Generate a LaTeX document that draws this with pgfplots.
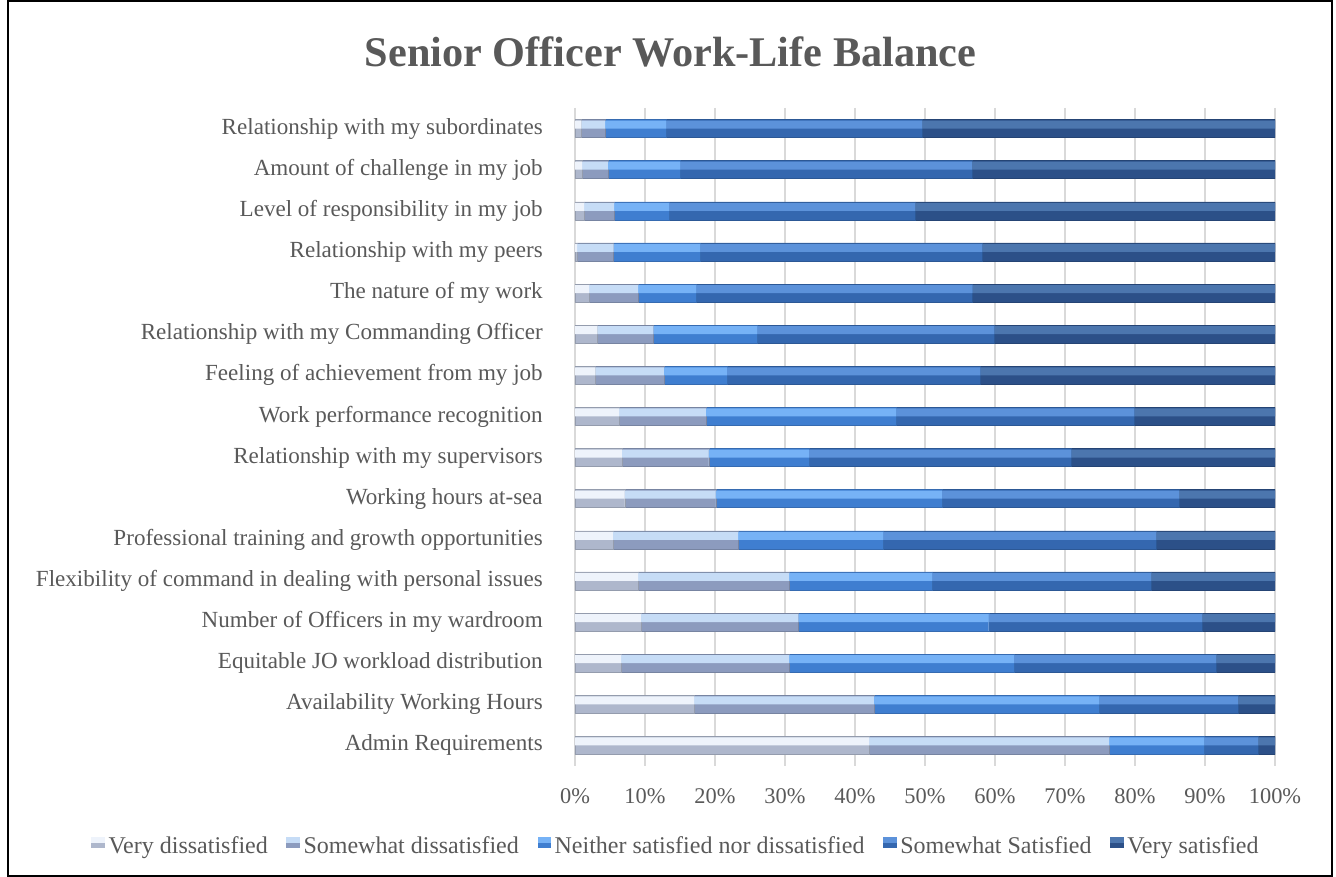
\documentclass[border=0pt]{standalone}
\usepackage{pgfplots}
\usepackage{pgfplotstable}
\pgfplotsset{compat=1.18}
\usepackage{fontspec}
\setmainfont{Liberation Serif}
\definecolor{txt}{HTML}{595959}
\definecolor{gridc}{HTML}{D9D9D9}
% lower (base) and upper (highlight) tones of each series
\definecolor{vdD}{HTML}{AEB7CC}\definecolor{vdL}{HTML}{EEF3FB}
\definecolor{sdD}{HTML}{8C9BBE}\definecolor{sdL}{HTML}{C6DCF6}
\definecolor{neD}{HTML}{3F7ED0}\definecolor{neL}{HTML}{76B2F6}
\definecolor{ssD}{HTML}{3467AF}\definecolor{ssL}{HTML}{5C92DA}
\definecolor{vsD}{HTML}{2C5088}\definecolor{vsL}{HTML}{4C76AE}

% y: 1 = top row ... 16 = bottom row
\pgfplotstableread{
y  vd   sd   ne   ss   vs
1  0.9  3.4  8.7  36.6 50.4
2  1.0  3.7  10.3 41.7 43.3
3  1.3  4.3  7.8  35.2 51.4
4  0.3  5.2  12.4 40.3 41.8
5  2.0  7.0  8.3  39.5 43.2
6  3.2  8.0  14.8 33.9 40.1
7  2.9  9.8  9.0  36.2 42.1
8  6.3  12.4 27.2 34.0 20.1
9  6.7  12.4 14.3 37.5 29.1
10 7.1  13.0 32.3 33.9 13.7
11 5.4  17.9 20.7 39.0 17.0
12 9.0  21.6 20.4 31.3 17.7
13 9.4  22.5 27.2 30.5 10.4
14 6.6  24.0 32.1 28.9 8.4
15 17.0 25.7 32.2 19.8 5.3
16 42.0 34.3 13.6 7.7  2.4
}\datatable

\pgfplotsset{
  frame/.style={
    at={(431.25pt,83.25pt)}, anchor=south west,
    scale only axis, width=525pt, height=493.5pt,
    xbar stacked,
    xmin=0, xmax=100, ymin=0.5, ymax=16.5, y dir=reverse,
  },
  leg/.style 2 args={legend image code/.code={
    \fill[#1] (0pt,-1pt) rectangle (9.5pt,7pt);
    \fill[#2] (0pt,3.2pt) rectangle (9.5pt,6.6pt);}},
}
\begin{document}
\begin{tikzpicture}
\useasboundingbox (0pt,0pt) rectangle (1002pt,657.75pt);
\draw[line width=1.2pt] (6pt,0.9pt) rectangle (999pt,657pt);
\node[anchor=base, font=\fontsize{31.7}{36}\selectfont\bfseries, text=txt] at (502.9pt,607.5pt) {Senior Officer Work-Life Balance};
\begin{axis}[
  frame, bar width=13.5pt,
  ytick={1,...,16},
  yticklabels={Relationship with my subordinates, Amount of challenge in my job, Level of responsibility in my job, Relationship with my peers, The nature of my work, Relationship with my Commanding Officer, Feeling of achievement from my job, Work performance recognition, Relationship with my supervisors, Working hours at-sea, Professional training and growth opportunities, Flexibility of command in dealing with personal issues, Number of Officers in my wardroom, Equitable JO workload distribution, Availability Working Hours, Admin Requirements},
  xtick={0,10,...,100},
  xticklabels={0\%,10\%,20\%,30\%,40\%,50\%,60\%,70\%,80\%,90\%,100\%},
  xmajorgrids, ymajorgrids=false,
  major grid style={draw=gridc, line width=1pt},
  axis line style={draw=none},
  major tick length=0pt, tick style={draw=none},
  yticklabel style={anchor=east, inner sep=0pt, xshift=-24pt, font=\fontsize{17.3}{20}\selectfont, text=txt},
  xticklabel style={anchor=north, inner sep=0pt, yshift=-16.5pt, font=\fontsize{16.8}{20}\selectfont, text=txt},
  legend columns=5,
  legend style={at={(0.1429,-0.1216)}, anchor=center, draw=none, fill=none,
    font=\fontsize{18}{20}\selectfont, text=txt, inner sep=0pt,
    nodes={inner sep=0pt},
    /tikz/every odd column/.append style={column sep=3pt},
    /tikz/every even column/.append style={column sep=14pt}},
]
\addplot[draw=vdD!85!black, line width=0.3pt, fill=vdD, leg={vdD}{vdL}] table[x=vd, y=y] {\datatable};
\addlegendentry{Very dissatisfied}
\addplot[draw=sdD!85!black, line width=0.3pt, fill=sdD, leg={sdD}{sdL}] table[x=sd, y=y] {\datatable};
\addlegendentry{Somewhat dissatisfied}
\addplot[draw=neD!85!black, line width=0.3pt, fill=neD, leg={neD}{neL}] table[x=ne, y=y] {\datatable};
\addlegendentry{Neither satisfied nor dissatisfied}
\addplot[draw=ssD!85!black, line width=0.3pt, fill=ssD, leg={ssD}{ssL}] table[x=ss, y=y] {\datatable};
\addlegendentry{Somewhat Satisfied}
\addplot[draw=vsD!85!black, line width=0.3pt, fill=vsD, leg={vsD}{vsL}] table[x=vs, y=y] {\datatable};
\addlegendentry{Very satisfied}
\end{axis}
% highlight band on the upper half of each bar
\begin{axis}[
  frame, bar width=6pt, bar shift=3.0pt,
  hide axis,
]
\addplot[draw=none, fill=vdL] table[x=vd, y=y] {\datatable};
\addplot[draw=none, fill=sdL] table[x=sd, y=y] {\datatable};
\addplot[draw=none, fill=neL] table[x=ne, y=y] {\datatable};
\addplot[draw=none, fill=ssL] table[x=ss, y=y] {\datatable};
\addplot[draw=none, fill=vsL] table[x=vs, y=y] {\datatable};
\end{axis}
\end{tikzpicture}
\end{document}
